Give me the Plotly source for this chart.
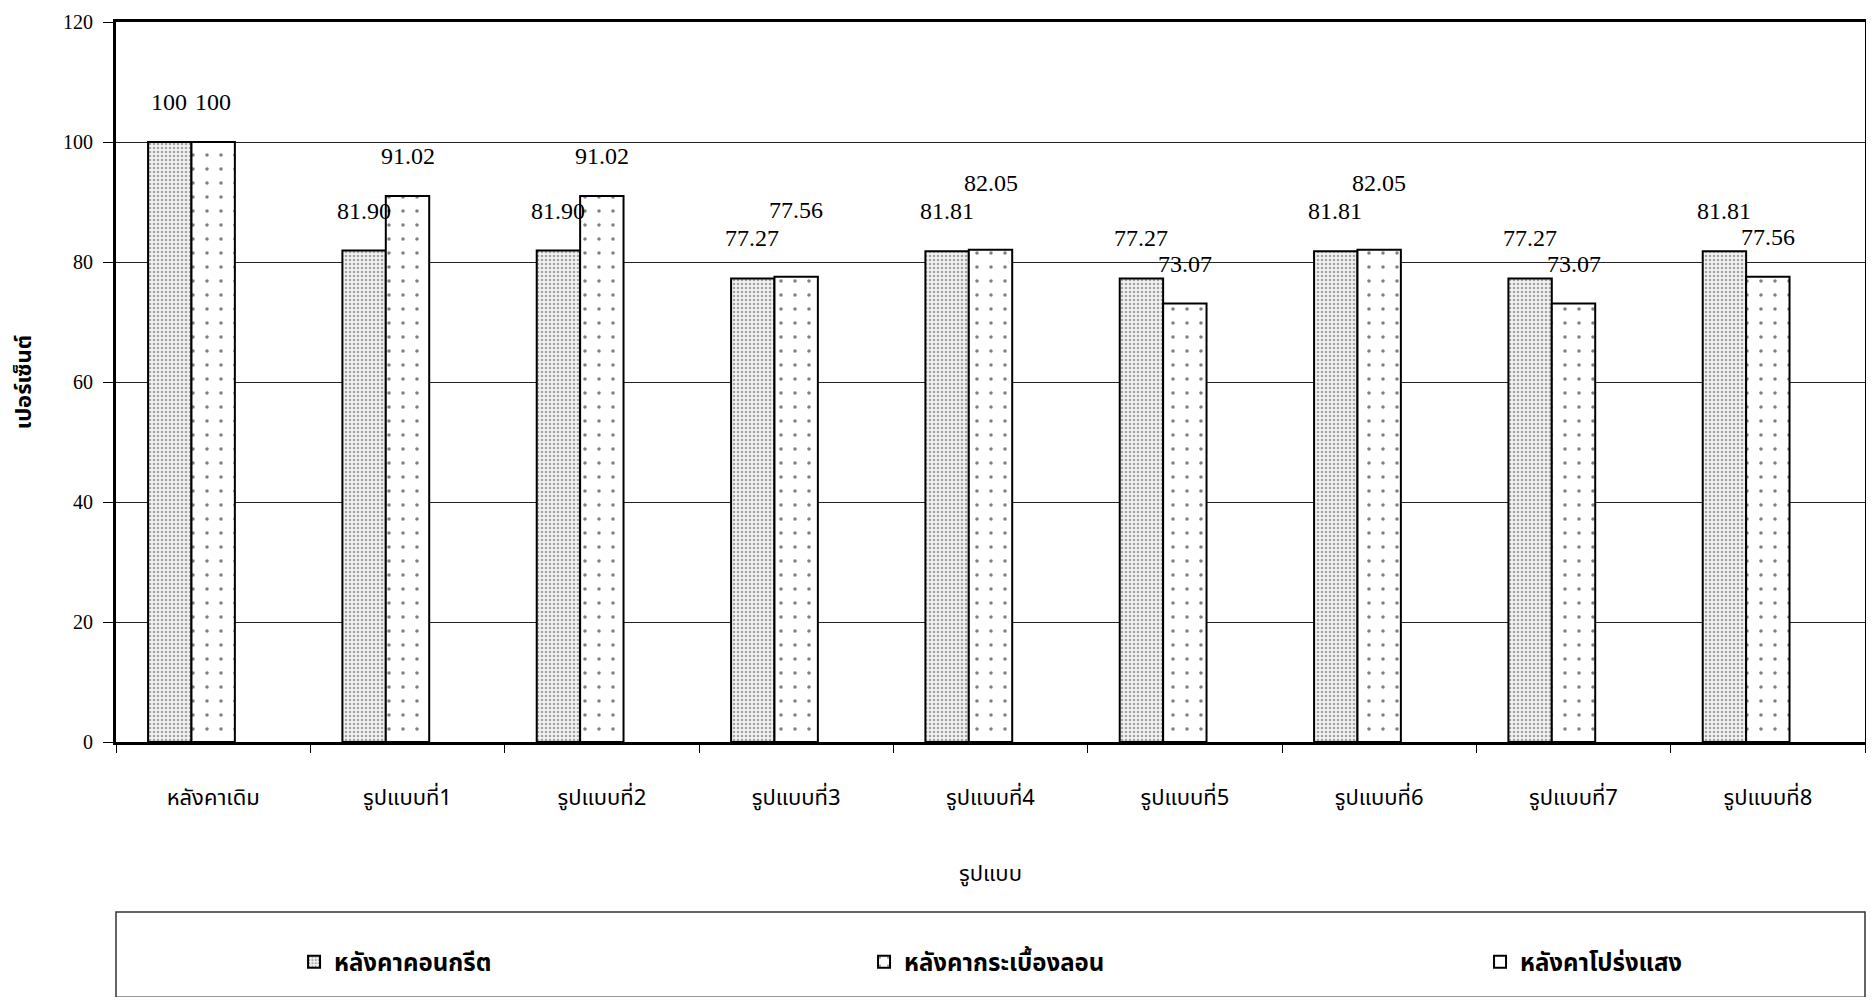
import plotly.graph_objects as go

categories = ["หลังคาเดิม", "รูปแบบที่1", "รูปแบบที่2", "รูปแบบที่3", "รูปแบบที่4",
              "รูปแบบที่5", "รูปแบบที่6", "รูปแบบที่7", "รูปแบบที่8"]
concrete = [100, 81.90, 81.90, 77.27, 81.81, 77.27, 81.81, 77.27, 81.81]
tile = [100, 91.02, 91.02, 77.56, 82.05, 73.07, 82.05, 73.07, 77.56]
translucent = [None] * 9
concrete_labels = ["100", "81.90", "81.90", "77.27", "81.81", "77.27", "81.81", "77.27", "81.81"]
tile_labels = ["100", "91.02", "91.02", "77.56", "82.05", "73.07", "82.05", "73.07", "77.56"]
series_names = ["หลังคาคอนกรีต", "หลังคากระเบื้องลอน", "หลังคาโปร่งแสง"]

SERIF = "Liberation Serif, Times New Roman, serif"
THAI = "Noto Sans Thai, Tahoma, Noto Sans, sans-serif"

fig = go.Figure()
fig.add_trace(go.Bar(
    x=categories, y=concrete, name=series_names[0], legend="legend",
    marker=dict(color="#d0d0d0", line=dict(color="black", width=2),
                pattern=dict(shape=".", fgcolor="#555555", bgcolor="#f2f2f2", size=4, solidity=0.35)),
))
fig.add_trace(go.Bar(
    x=categories, y=tile, name=series_names[1], legend="legend2",
    marker=dict(color="white", line=dict(color="black", width=2),
                pattern=dict(shape=".", fgcolor="black", bgcolor="white", size=14, solidity=0.05)),
))
fig.add_trace(go.Bar(
    x=categories, y=translucent, name=series_names[2], legend="legend3",
    marker=dict(color="white", line=dict(color="black", width=2)),
))

# data labels (concrete bar sits one bar-width left of the category centre)
n = len(categories)
for i in range(n):
    fig.add_annotation(x=categories[i], y=concrete[i], xref="x", yref="y",
                       xshift=-44, yshift=40, text=concrete_labels[i], showarrow=False,
                       font=dict(family=SERIF, size=24, color="black"))
    extra = 27 if abs(tile[i] - concrete[i]) < 1.5 and tile[i] != concrete[i] else 0
    fig.add_annotation(x=categories[i], y=tile[i], xref="x", yref="y",
                       xshift=0, yshift=40 + extra, text=tile_labels[i], showarrow=False,
                       font=dict(family=SERIF, size=24, color="black"))

# legend frame
fig.add_shape(type="rect", xref="paper", yref="paper", x0=0, x1=1.0, y0=-0.3545, y1=-0.2361,
              line=dict(color="#333", width=1.5), fillcolor="rgba(0,0,0,0)")

leg_common = dict(orientation="h", yanchor="middle", y=-0.3056, xanchor="left",
                  bgcolor="rgba(0,0,0,0)", font=dict(family=THAI, size=24, color="black", weight="bold"))

fig.update_layout(
    width=1858, height=989,
    margin=dict(l=108, r=1, t=14, b=255, autoexpand=False),
    paper_bgcolor="white", plot_bgcolor="white",
    barmode="group", bargap=0.33, bargroupgap=0,
    showlegend=True,
    legend=dict(x=0.1018, **leg_common),
    legend2=dict(x=0.4277, **leg_common),
    legend3=dict(x=0.7799, **leg_common),
    xaxis=dict(
        automargin=False,
        showline=True, linecolor="black", linewidth=3, mirror=True,
        ticks="outside", ticklen=8, tickcolor="black", tickson="boundaries",
        ticklabelstandoff=34,
        tickfont=dict(family=THAI, size=22, color="black"),
        title=dict(text="รูปแบบ", font=dict(family=THAI, size=22, color="black"), standoff=52),
    ),
    yaxis=dict(
        automargin=False,
        range=[0, 120], dtick=20, showline=True, linecolor="black", linewidth=3, mirror=True,
        ticks="outside", ticklen=10, tickcolor="black",
        ticklabelstandoff=6, ticklabeloverflow="allow",
        showgrid=True, gridcolor="#222", gridwidth=1,
        tickfont=dict(family=SERIF, size=20, color="black"),
        title=dict(text="เปอร์เซ็นต์", font=dict(family=THAI, size=22, color="black", weight="bold"), standoff=26),
    ),
)

fig.write_html("out.html")
